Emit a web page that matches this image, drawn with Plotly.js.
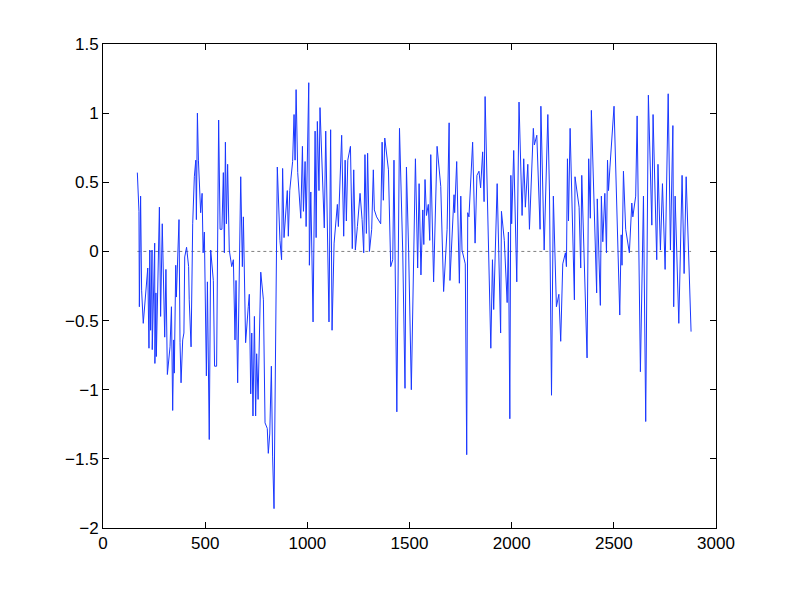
<!DOCTYPE html>
<html>
<head>
<meta charset="utf-8">
<script src="https://cdn.plot.ly/plotly-3.0.1.min.js"></script>
<style>
  body { margin: 0; background: #fff; }
  #chart { width: 790px; height: 595px; }
</style>
</head>
<body>
<div id="chart"></div>
<script>
// series, left to right
var xs = [168,176,178,184,189,197,219,225,229,233,240,241,253,254,259,261,276,282,290,302,308,315,328,335,341,346,349,356,359,372,377,382,390,396,400,409,419,422,431,439,447,454,457,462,467,475,478,485,490,496,506,511,520,527,540,546,556,566,573,582,589,594,599,604,610,618,
  630,638,646,651,659,674,682,687,698,711,716,723,728,734,741,747,752,759,772,785,793,804,809,816,824,830,837,853,866,874,879,886,902,907,914,928,935,940,945,953,968,976,981,989,994,1007,1010,1017,1028,1038,1043,1049,1057,1062,
  1083,1090,1106,1114,1121,1131,1147,1152,1168,1178,1185,1191,1198,1211,1220,1227,1235,1245,1258,1268,1276,1282,1289,1295,1304,1315,1323,1328,1339,1359,1366,1372,1379,1397,1408,1418,1424,1438,1451,1467,1478,1485,1496,1509,1529,1540,1547,
  1556,1565,1570,1576,1583,1592,1599,1604,1618,1635,1653,1667,1684,1694,1698,1710,1718,1721,1731,1744,1751,1757,1773,1780,1785,1791,1809,1821,1830,1840,1848,1858,1865,1870,1883,1898,1906,1912,1929,1946,1950,1964,1978,1984,1991,1996,2000,2010,
  2025,2036,2051,2059,2067,2079,2087,2106,2111,2123,2139,2143,2159,2177,2185,2195,2204,2219,2231,2240,2250,2263,2268,2273,2278,2286,2307,2310,2330,2338,2343,2358,2369,2377,2385,2390,2410,2416,2419,2434,2439,2446,2456,2464,2469,2474,2481,
  2501,2529,2536,2540,2547,2558,2576,2588,2593,2607,2614,2630,2645,2656,2669,2686,2692,2710,2716,2728,2738,2751,2766,2777,2789,2793,2800,2818,2834,2844,2854,2878];

var ys = [0.57,0.29,-0.40,0.40,-0.28,-0.52,-0.12,-0.70,0.01,-0.57,0.01,-0.71,0.06,-0.81,-0.30,-0.76,0.32,-0.47,0.20,-0.62,-0.13,-0.89,-0.69,-0.40,-1.15,-0.64,-0.88,-0.10,-0.33,0.23,-0.66,-0.95,-0.64,-0.59,-0.04,0.03,-0.11,-0.35,-0.69,0.20,0.54,0.66,0.23,1.00,0.66,0.42,0.28,0.42,-0.01,0.14,-0.90,-0.22,-1.36,0.01,-0.21,-0.83,-0.83,0.95,0.16,0.16,0.57,-0.01,0.79,0.20,0.63,0.01,
  -0.11,-0.06,-0.64,-0.21,-0.95,0.54,-0.11,0.25,-0.66,-0.40,-0.31,-1.03,-0.59,-1.19,-0.47,-1.19,-0.74,-1.07,-0.15,-0.35,-1.24,-1.28,-1.46,-1.32,-0.83,-1.48,-1.86,0.61,0.08,-0.06,0.60,0.10,0.44,0.11,0.44,0.65,0.99,0.66,1.17,0.57,0.24,0.76,0.29,0.65,0.18,1.22,-0.10,0.43,-0.51,0.87,0.10,0.94,0.44,1.04,
  0.17,0.87,-0.51,0.88,-0.57,0.06,0.34,0.18,0.84,0.11,0.66,0.22,0.66,0.76,0.02,0.59,0.01,0.18,0.42,0.23,-0.01,0.70,0.13,0.71,0.00,0.16,0.59,0.30,0.25,0.20,0.79,0.37,0.82,0.59,-0.11,-0.06,0.66,-1.16,0.89,-0.01,-0.99,0.61,-0.01,-1.00,0.67,-0.12,0.49,
  -0.17,0.30,0.05,0.52,0.26,0.34,0.08,0.70,-0.22,0.76,0.47,-0.29,0.16,0.93,-0.21,0.14,0.41,0.28,0.65,-0.23,0.40,0.01,-0.09,-1.47,0.28,0.25,0.79,0.06,0.55,0.58,0.46,0.72,0.36,1.12,0.16,-0.70,-0.06,-0.42,0.49,-0.59,0.29,0.08,-0.37,0.14,-1.21,0.55,0.20,0.73,
  -0.22,1.08,0.26,0.67,0.32,0.63,0.16,0.89,0.77,0.84,0.16,1.05,0.01,0.99,0.43,-1.04,0.40,-0.40,-0.31,-0.65,-0.09,-0.01,-0.11,0.67,0.22,0.89,-0.35,0.54,0.32,-0.12,0.55,-0.28,-0.77,0.67,0.24,1.02,-0.01,-0.30,0.38,-0.39,0.40,0.07,0.42,-0.01,0.66,0.44,0.61,
  1.05,-0.46,0.12,-0.10,0.58,0.16,-0.01,0.35,0.25,0.40,0.98,-0.87,0.40,-1.23,1.13,0.19,0.99,-0.06,0.63,0.01,0.49,-0.13,1.14,0.01,0.91,-0.40,0.40,-0.52,0.55,-0.16,0.54,-0.58];

// dotted reference line at zero
var zeroX = [168, 2878];
var zeroY = [0, 0];

var xTicks = [0, 500, 1000, 1500, 2000, 2500, 3000];
var yTicks = [-2, -1.5, -1, -0.5, 0, 0.5, 1, 1.5];

var traceZero = {
  x: zeroX,
  y: zeroY,
  type: "scatter",
  mode: "lines",
  line: { color: "#808080", width: 1, dash: "dot" },
  hoverinfo: "skip"
};

var traceSeries = {
  x: xs,
  y: ys,
  type: "scatter",
  mode: "lines",
  line: { color: "rgb(25,55,255)", width: 1 }
};

var axisStyle = {
  showline: true,
  linecolor: "#000",
  linewidth: 1,
  mirror: "ticks",
  ticks: "inside",
  ticklen: 6,
  tickcolor: "#000",
  showgrid: false,
  zeroline: false,
  tickfont: { family: "Liberation Sans, Arial, sans-serif", size: 17, color: "#000" }
};

var layout = {
  width: 790,
  height: 595,
  paper_bgcolor: "#fff",
  plot_bgcolor: "#fff",
  showlegend: false,
  margin: { l: 103, r: 74, t: 44, b: 67 },
  xaxis: Object.assign({}, axisStyle, { range: [0, 3000], tickvals: xTicks }),
  yaxis: Object.assign({}, axisStyle, { range: [-2, 1.5], tickvals: yTicks })
};

Plotly.newPlot("chart", [traceZero, traceSeries], layout, { displayModeBar: false, staticPlot: true });
</script>
</body>
</html>
